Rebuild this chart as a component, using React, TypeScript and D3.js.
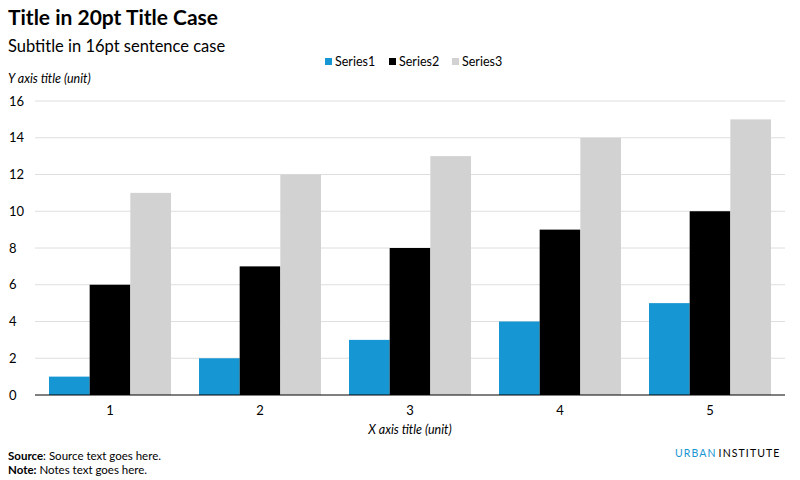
import React from "react";
import * as d3 from "d3";

const categories = ["1", "2", "3", "4", "5"];
const seriesNames = ["Series1", "Series2", "Series3"];
const series1 = [1, 2, 3, 4, 5];
const series2 = [6, 7, 8, 9, 10];
const series3 = [11, 12, 13, 14, 15];
const yTicks = [0, 2, 4, 6, 8, 10, 12, 14, 16];
const colors = ["#1696d2", "#000000", "#d2d2d2"];

const W = 800, H = 480;
const left = 35, right = 785, top = 101, bottom = 395;
const FONT = "Lato, 'Open Sans', sans-serif";

export default function App() {
  const values = [series1, series2, series3];
  const x0 = d3.scaleBand<string>().domain(categories).range([left, right]).paddingInner(0.1867).paddingOuter(0.0933);
  const x1 = d3.scaleBand<string>().domain(seriesNames).range([0, x0.bandwidth()]);
  const y = d3.scaleLinear().domain([0, 16]).range([bottom, top]);

  const legendX = [325, 389, 452];

  return (
    <svg width={W} height={H} style={{ position: "absolute", left: 0, top: 0, background: "#fff" }} fontFamily={FONT}>
      <rect width={W} height={H} fill="#fff" />
      <text x={8} y={25} fontSize={21} fontWeight={700} fill="#000">Title in 20pt Title Case</text>
      <text x={8} y={52} fontSize={16.5} fill="#000">Subtitle in 16pt sentence case</text>
      {seriesNames.map((s, i) => (
        <g key={s}>
          <rect x={legendX[i]} y={58} width={7} height={7} fill={colors[i]} />
          <text x={legendX[i] + 10} y={66} fontSize={12.5} fill="#000">{s}</text>
        </g>
      ))}
      <text x={8} y={83} fontSize={12.5} fontStyle="italic" fill="#000">Y axis title (unit)</text>
      {yTicks.map((t) => (
        <g key={t}>
          {t !== 0 && <line x1={left} x2={right} y1={y(t)} y2={y(t)} stroke="#dedede" strokeWidth={1} />}
          <text x={9} y={y(t) + 4.5} fontSize={13} fill="#000">{t}</text>
        </g>
      ))}
      {categories.map((c, ci) => (
        <g key={c}>
          {values.map((vals, si) => (
            <rect key={si} x={(x0(c) as number) + (x1(seriesNames[si]) as number)} y={y(vals[ci])}
              width={x1.bandwidth()} height={y(0) - y(vals[ci])} fill={colors[si]} />
          ))}
          <text x={(x0(c) as number) + x0.bandwidth() / 2} y={415} fontSize={13} textAnchor="middle" fill="#000">{c}</text>
        </g>
      ))}
      <line x1={left} x2={right} y1={y(0)} y2={y(0)} stroke="#000" strokeWidth={1} />
      <text x={410} y={434} fontSize={12.5} fontStyle="italic" textAnchor="middle" fill="#000">X axis title (unit)</text>
      <text x={8} y={460} fontSize={11.5} fill="#000"><tspan fontWeight={700}>Source</tspan>: Source text goes here.</text>
      <text x={8} y={474} fontSize={11.5} fill="#000"><tspan fontWeight={700}>Note:</tspan> Notes text goes here.</text>
      <text x={675} y={457} fontSize={10.5} letterSpacing={1.1} fill="#000">
        <tspan fill="#1696d2">URBAN</tspan><tspan dx={2}>INSTITUTE</tspan>
      </text>
    </svg>
  );
}
